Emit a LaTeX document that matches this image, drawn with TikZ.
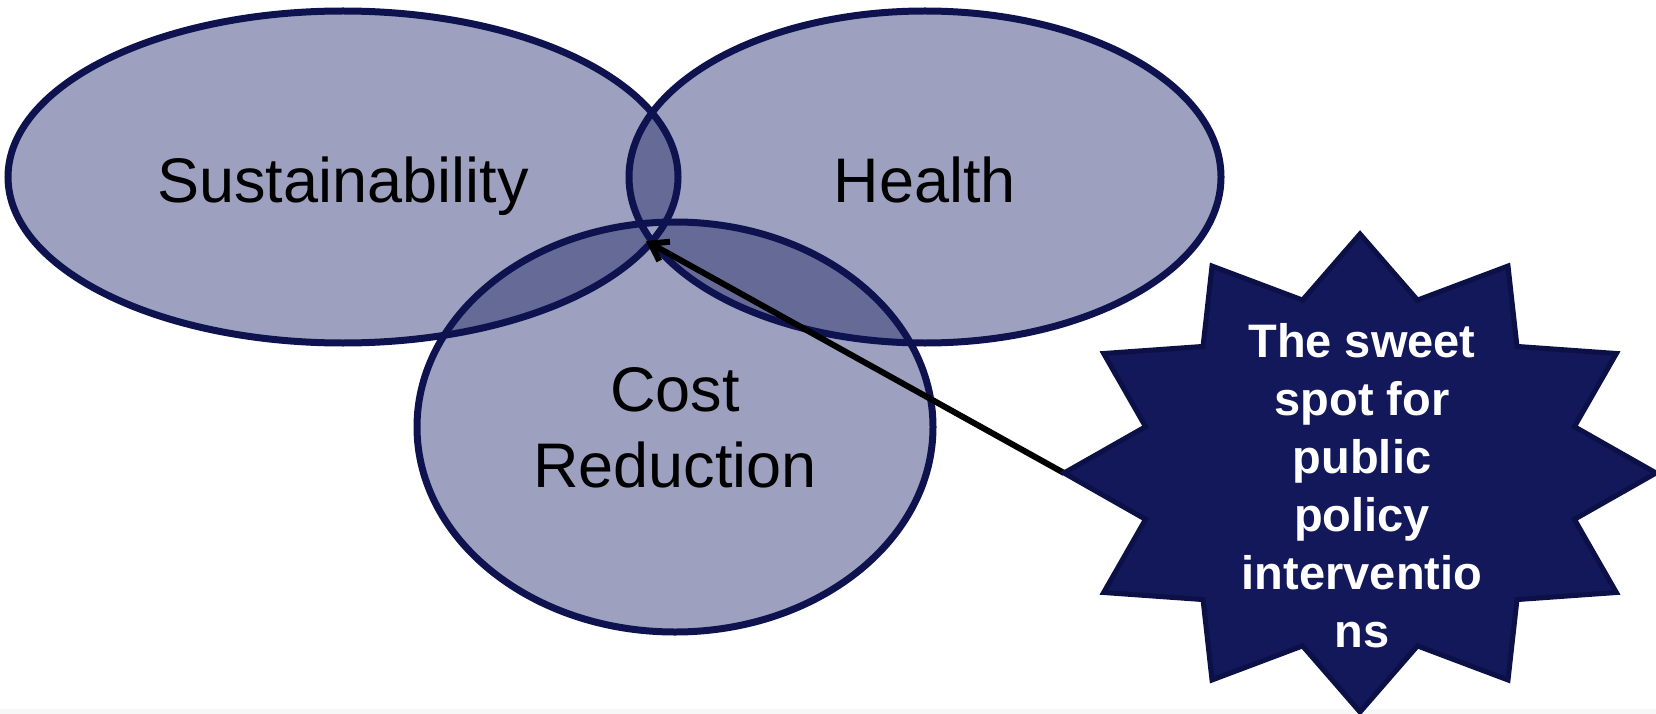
\documentclass[tikz,border=0pt]{standalone}
\usepackage{fontspec}
\setmainfont{Liberation Sans}
\usetikzlibrary{shapes.geometric,arrows.meta}
\definecolor{setlight}{HTML}{9DA1BF}
\definecolor{setdark}{HTML}{656A97}
\definecolor{setedge}{HTML}{0E1350}
\definecolor{starfill}{HTML}{12185A}
\definecolor{staredge}{HTML}{0B1046}
\definecolor{floorgray}{HTML}{F7F7F7}
\begin{document}
\begin{tikzpicture}[x=1pt,y=-1pt,
  setring/.style={ellipse, draw=setedge, line width=7pt, inner sep=0pt},
  setlabel/.style={font=\fontsize{63}{76}\selectfont, text=black, align=center, inner sep=0pt},
  burst/.style={fill=starfill, draw=staredge, line width=5pt, line join=miter},
  burstlabel/.style={text=white, font=\bfseries\fontsize{47}{58}\selectfont, align=center, inner sep=0pt},
  pointer/.style={draw=black, line width=6pt, -{Straight Barb[length=16pt,width=22pt]}}
]
\useasboundingbox (0,0) rectangle (1656,714);
\fill[floorgray] (0,709) rectangle (1656,714);

% centres of the three sets
\coordinate (cS) at (343,177);
\coordinate (cH) at (925,177);
\coordinate (cC) at (675,427);

% union in the dark tone, then odd-count regions back to the light tone
\fill[setdark] (cS) ellipse [x radius=335pt, y radius=166pt]
               (cH) ellipse [x radius=296pt, y radius=166pt]
               (cC) ellipse [x radius=258pt, y radius=205pt];
\fill[setlight, even odd rule] (cS) ellipse [x radius=335pt, y radius=166pt]
               (cH) ellipse [x radius=296pt, y radius=166pt]
               (cC) ellipse [x radius=258pt, y radius=205pt];

% outlines
\node[setring, minimum width=670pt, minimum height=332pt] (sust) at (cS) {};
\node[setring, minimum width=592pt, minimum height=332pt] (health) at (cH) {};
\node[setring, minimum width=516pt, minimum height=410pt] (cost) at (cC) {};

% labels
\node[setlabel, anchor=base] (sustT) at (343,202) {Sustainability};
\node[setlabel, anchor=base] (healthT) at (925,202) {Health};
\node[setlabel] (costT) at (675,428) {Cost\\Reduction};

% pointer to the common region
\coordinate (tipL) at (1064,473);
\coordinate (sweet) at (646,241);
\draw[pointer] (tipL) -- (sweet);

% twelve-point burst
\draw[burst] (1656,473)
  \foreach \k [evaluate=\k as \rx using {mod(\k,2)==0 ? 296 : 222},
               evaluate=\k as \ry using {mod(\k,2)==0 ? 239 : 179}] in {1,...,23}
  { -- ({1360+\rx*cos(\k*15)},{473-\ry*sin(\k*15)}) } -- cycle;
\node[burstlabel] (spot) at (1362,485.5) {The sweet\\spot for\\public\\policy\\interventio\\ns};
\end{tikzpicture}
\end{document}
